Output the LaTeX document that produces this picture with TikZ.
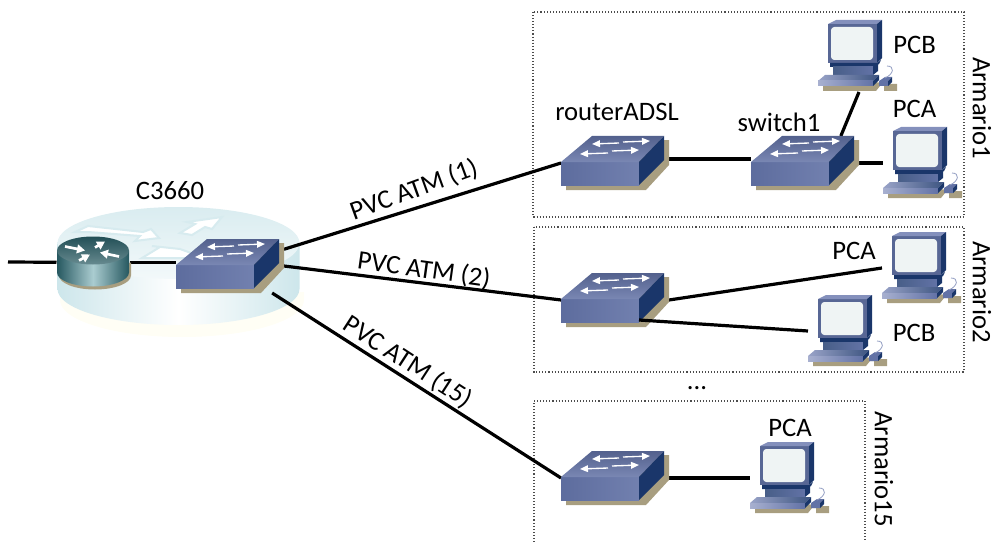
\documentclass[tikz,border=0pt]{standalone}
\usepackage{fontspec}
\setmainfont{Carlito}
\usetikzlibrary{arrows.meta}

\definecolor{swfront}{RGB}{98,114,166}
\definecolor{swside}{RGB}{26,54,106}
\definecolor{swtop}{RGB}{110,124,176}
\definecolor{tan}{RGB}{168,158,128}
\definecolor{screenc}{RGB}{239,244,244}
\definecolor{cyl}{RGB}{205,230,235}
\definecolor{rtrdark}{RGB}{38,88,96}
\definecolor{rtrlight}{RGB}{170,204,208}

\tikzset{every picture/.style={line width=0.75pt}}
\tikzset{
  swbox/.style={inner sep=0pt,outer sep=0pt,minimum width=81pt,minimum height=40.5pt},
  pcbox/.style={inner sep=0pt,outer sep=0pt,minimum width=61.5pt,minimum height=54pt},
  rtrbox/.style={inner sep=0pt,outer sep=0pt,minimum width=54.75pt,minimum height=39pt},
  link/.style={line width=2.4pt},
  cabinet/.style={color=black!70,line width=0.8pt,dash pattern=on 0.8pt off 1.5pt},
  lbl/.style={inner sep=0.75pt,font=\fontsize{20}{22}\selectfont},
  swarrow/.style={white,line width=1pt,-{Triangle[length=6pt,width=5pt]}},
  rtrarrow/.style={white,line width=2pt,-{Triangle[length=6pt,width=6.5pt]}},
  pics/switchicon/.style={code={
    \begin{scope}[yscale=-1,shift={(-54,-1)}]
    %Shape: Shadow
    \fill [tan] (5,23) -- (5,28) -- (85,28) -- (108,3) -- (108,-22) -- (100,-22) -- cycle ;
    %Shape: Faces
    \shade [left color=swfront!95!black,right color=swfront!90!white] (0,0) -- (78,0) -- (78,23) -- (0,23) -- cycle ;
    \shade [bottom color=swfront!85!white,top color=swfront!85!black] (0,0) -- (31,-26) -- (103,-26) -- (78,0) -- cycle ;
    \fill [swside] (78,0) -- (103,-26) -- (103,-2) -- (78,23) -- cycle ;
    %Straight Lines
    \draw [swarrow] (58,-19) -- (31,-18) ;
    \draw [swarrow] (62,-20) -- (89,-21) ;
    \draw [swarrow] (47,-9) -- (19,-8) ;
    \draw [swarrow] (51,-11) -- (78,-12) ;
    \end{scope}
  }},
  pics/pcicon/.style={code={
    \begin{scope}[yscale=-1,shift={(-31,-32)}]
    %Shape: Shadow
    \fill [tan] (-5,62) -- (-5,67) -- (48,67) -- (52,62) -- (56,62) -- (56,67) -- (69,67) -- (69,60) -- (64,60) -- (46,58) -- cycle ;
    %Shape: Monitor
    \fill [swfront!90!black] (0,0) -- (49,0) -- (49,39) -- (0,39) -- cycle ;
    \fill [swtop!85!white] (0,0) -- (8,-4) -- (54,-4) -- (49,0) -- cycle ;
    \fill [swside] (49,0) -- (54,-4) -- (54,34) -- (49,39) -- cycle ;
    \fill [screenc,rounded corners=2.5pt] (3,3) rectangle (45,36) ;
    %Shape: Stand
    \fill [swside] (2,39) -- (49,39) -- (53,36) -- (51,40) -- (46,43) -- (2,43) -- cycle ;
    \shade [left color=swside!80!white,right color=swfront] (5,43) rectangle (45,51) ;
    \fill [swside] (45,43) -- (50,39) -- (50,47) -- (45,51) -- cycle ;
    %Shape: Keyboard
    \shade [left color=swtop!70!white,right color=swside!85!white] (-3,51) -- (51,51) -- (45,57) -- (-10,57) -- cycle ;
    \shade [left color=swtop!60!white,right color=swfront] (-10,57) -- (45,57) -- (45,62) -- (-10,62) -- cycle ;
    \fill [swside] (45,57) -- (51,51) -- (51,56) -- (45,62) -- cycle ;
    %Shape: Mouse
    \fill [swfront] (51,57) -- (57,53) -- (64,53) -- (60,57) -- (60,62) -- (51,62) -- cycle ;
    \fill [swside] (60,57) -- (64,53) -- (64,58) -- (60,62) -- cycle ;
    \draw [swfront!70!white,line width=0.6pt] (57,54) .. controls (66,50) and (67,42) .. (59,42) ;
    \end{scope}
  }},
  pics/routericon/.style={code={
    \begin{scope}[yscale=-1]
    %Shape: Shadow
    \fill [tan] (-34,13) arc [start angle=180,end angle=0,x radius=36,y radius=14] -- (38,0) -- (-34,0) -- cycle ;
    %Shape: Can
    \shade [left color=rtrdark,right color=rtrdark,middle color=rtrlight] (-36,-12) -- (-36,10) arc [start angle=180,end angle=0,x radius=36,y radius=14] -- (36,-12) -- cycle ;
    \shade [top color=rtrdark!90!black,bottom color=rtrdark!70!white] (0,-12) ellipse [x radius=36,y radius=14] ;
    %Straight Lines
    \draw [rtrarrow] (-28,-16) -- (-8,-12) ;
    \draw [rtrarrow] (2,-15) -- (12,-21) ;
    \draw [rtrarrow] (26,-6) -- (7,-10) ;
    \draw [rtrarrow] (-14,-2) -- (-3,-8) ;
    \end{scope}
  }}
}

\begin{document}
\begin{tikzpicture}[x=0.75pt,y=0.75pt,yscale=-1,xscale=1]
\useasboundingbox (0,0) rectangle (993,542);
%Shape: Cylinder under the C3660
\fill [yellow!4] (60,292) -- (60,300) arc [start angle=180,end angle=0,x radius=122,y radius=37] -- (304,292) -- cycle ;
\shade [left color=cyl,right color=cyl,middle color=white] (57.5,243) -- (57.5,289) arc [start angle=180,end angle=0,x radius=121,y radius=36] -- (299.5,243) -- cycle ;
\shade [top color=cyl!75!white,bottom color=cyl!25!white] (178.5,243) ellipse [x radius=121,y radius=36] ;
%Shape: Faint arrows on the cylinder
\fill [white,draw=cyl!80!white,line width=1.5pt] (75,232) -- (88,226) -- (143,232) -- (151,229) -- (159,238) -- (135,241) -- (140,236) -- (88,232) -- cycle ;
\fill [white,draw=cyl!80!white,line width=1.5pt] (180,233) -- (195,224) -- (187,222) -- (222,217) -- (212,229) -- (205,227) -- (192,235) -- cycle ;
\fill [white,draw=cyl!80!white,line width=1.5pt] (142,258) -- (160,247) -- (152,246) -- (180,249) -- (205,258) -- cycle ;

%Shape: Cabinets
\draw [cabinet] (533,12) rectangle (964,217) ;
\draw [cabinet] (534,227) rectangle (964,372) ;
\draw [cabinet] (534,542) -- (534,401) -- (865,401) -- (865,542) ;

% Icon boxes
\coordinate (lineIn) at (8,262);
\node [rtrbox] (rtrC) at (93,262.5) {};
\node [swbox] (swC) at (230,266) {};
\node [swbox] (swA) at (615,163) {};
\node [swbox] (swS) at (805,163) {};
\node [swbox] (swB) at (615,300) {};
\node [swbox] (swO) at (615,478) {};
\node [pcbox] (pcB1) at (859,56) {};
\node [pcbox] (pcA1) at (924,163) {};
\node [pcbox] (pcA2) at (923,268) {};
\node [pcbox] (pcB2) at (849,331) {};
\node [pcbox] (pcA15) at (791,478) {};

%Straight Lines
\draw [link] (lineIn) -- (rtrC) ;
\draw [link] (rtrC.east) -- (rtrC.east -| swC.west) ;
\draw [link] (swC) -- (swA.west) ;
\draw [link] (swC.east) -- (swB.west) ;
\draw [link] (swC) -- (swO.west) ;
\draw [link] ([yshift=-3pt]swA.east) -- ([yshift=-3pt]swS.west) ;
\draw [link] (swS.37) -- (pcB1.south) ;
\draw [link] (swS.east) -- (pcA1.west) ;
\draw [link] (swB.east) -- (pcA2.west) ;
\draw [link] (swO.east) -- (pcA15.west) ;

% Icons
\pic at (rtrC) {routericon};
\pic at (swC) {switchicon};
\pic at (swA) {switchicon};
\pic at (swS) {switchicon};
\pic at (swB) {switchicon};
\pic at (swO) {switchicon};
\pic at (pcB1) {pcicon};
\pic at (pcA1) {pcicon};
\pic at (pcA2) {pcicon};
\pic at (pcB2) {pcicon};
\pic at (pcA15) {pcicon};

%Straight Lines
\draw [link] ([shift={(24,20)}]swB.center) -- (pcB2.west) ;

% Text Node
\draw (170,191) node (lblC) [lbl] {C3660};
% Text Node
\draw (617,112) node (lblA) [lbl] {routerADSL};
% Text Node
\draw (779,122) node (lblS) [lbl] {switch1};
% Text Node
\draw (914.5,45) node (lblB1) [lbl] {PCB};
% Text Node
\draw (914.5,109) node (lblA1) [lbl] {PCA};
% Text Node
\draw (854,251) node (lblA2) [lbl] {PCA};
% Text Node
\draw (914,333) node (lblB2) [lbl] {PCB};
% Text Node
\draw (790,428) node (lblA15) [lbl] {PCA};
% Text Node
\draw (697,388) node (lblDots) [lbl] {...};
% Text Node
\draw (982,108) node (lblArm1) [lbl,rotate=-90] {Armario1};
% Text Node
\draw (982,292) node (lblArm2) [lbl,rotate=-90] {Armario2};
% Text Node
\draw (884,469) node (lblArm15) [lbl,rotate=-90] {Armario15};
% Text Node
\draw (414,190) node (lblPvc1) [lbl,rotate=20] {PVC ATM (1)};
% Text Node
\draw (424,270) node (lblPvc2) [lbl,rotate=-8] {PVC ATM (2)};
% Text Node
\draw (408,362) node (lblPvc15) [lbl,rotate=-33] {PVC ATM (15)};
\end{tikzpicture}
\end{document}
